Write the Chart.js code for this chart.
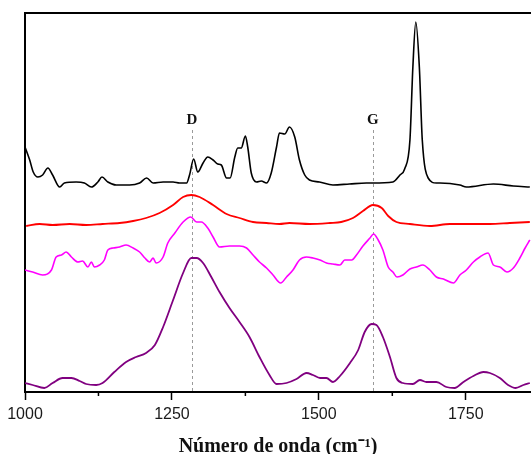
<!DOCTYPE html>
<html><head><meta charset="utf-8">
<script src="https://cdn.jsdelivr.net/npm/chart.js@4.4.1/dist/chart.umd.min.js"></script>
<style>html,body{margin:0;padding:0;background:#fff}#wrap{width:531px;height:454px;position:relative}</style>
</head><body><div id="wrap"><canvas id="c" width="531" height="454"></canvas></div>
<script>
// Axis range and ticks
const xMin = 1000, xMax = 1861;
const yMin = 0, yMax = 379;
const majorTicks = [1000, 1250, 1500, 1750];
const minorTicks = [1125, 1375, 1625];
const bandNames = ['D', 'G'];
const bandPositions = [1284, 1592];
const bandTop = 262;

// Black spectrum
const wnBlack = [1000,1008,1014,1022,1030,1039,1047,1059,1067,1087,1101,1113,1124,1131,1141,1155,1178,1195,1207,1218,1235,1252,1263,1275,1280,1287,1294,1303,1311,1320,1328,1334,1343,1349,1357,1362,1368,1375,1379,1385,1394,1402,1411,1419,1428,1433,1442,1450,1459,1467,1476,1484,1501,1524,1552,1581,1592,1626,1638,1646,1655,1660,1665,1671,1676,1686,1700,1706,1740,1751,1797,1831,1859];
const intBlack = [245,232,220,215,217,224,217,205,209,210,209,205,210,215,210,207,207,209,214,209,210,210,209,209,217,233,220,229,235,232,228,227,214,214,235,244,244,256,245,219,210,211,209,219,245,259,258,265,255,232,217,212,210,207,208,209,209,210,217,223,252,325,370,325,252,214,209,209,207,205,208,206,205];

// Red spectrum
const wnRed = [1002,1025,1047,1076,1104,1132,1161,1184,1206,1229,1252,1269,1283,1297,1320,1343,1365,1388,1411,1433,1450,1484,1519,1538,1558,1575,1592,1607,1618,1632,1655,1689,1723,1757,1791,1825,1859];
const intRed = [166,168,167,168,167,168,169,171,174,179,187,195,197,195,187,178,174,170,169,168,169,168,169,170,174,181,187,184,176,170,168,166,168,168,168,169,170];

// Magenta spectrum
const wnMagenta = [1000,1013,1030,1045,1053,1062,1070,1079,1090,1098,1107,1113,1118,1127,1135,1141,1150,1161,1172,1184,1195,1204,1212,1218,1223,1235,1243,1255,1269,1282,1292,1300,1311,1320,1331,1348,1365,1377,1388,1399,1411,1422,1435,1445,1456,1467,1479,1490,1502,1513,1524,1536,1544,1556,1564,1575,1587,1593,1601,1609,1618,1626,1633,1643,1655,1666,1677,1689,1700,1712,1729,1740,1751,1763,1774,1788,1797,1808,1820,1831,1842,1851,1859];
const intMagenta = [122,120,117,122,135,137,140,135,130,131,125,130,125,127,132,142,144,145,147,144,140,134,130,134,129,135,149,159,170,175,170,170,164,155,145,146,146,144,137,130,124,117,109,115,122,132,135,134,132,129,128,127,132,132,137,146,154,158,152,142,125,120,115,117,123,125,127,122,115,113,109,117,122,130,135,139,127,125,120,124,134,144,152];

// Purple spectrum
const wnPurple = [1000,1013,1033,1047,1064,1079,1093,1104,1121,1132,1152,1172,1189,1206,1221,1235,1252,1269,1283,1292,1303,1317,1331,1348,1365,1382,1399,1416,1428,1445,1462,1479,1490,1502,1513,1524,1536,1553,1567,1578,1590,1598,1609,1621,1632,1643,1660,1672,1683,1700,1717,1731,1746,1763,1780,1791,1808,1822,1835,1848,1859];
const intPurple = [9,7,4,9,14,14,11,8,7,9,20,30,35,39,47,65,92,119,134,134,129,115,100,84,70,55,35,17,8,9,13,19,17,14,14,10,16,29,42,60,68,67,55,35,14,9,8,12,10,10,5,4,10,16,20,19,14,7,4,7,9];

const toPts = (xs, ys) => xs.map((x, i) => ({x: x, y: ys[i]}));

const framePlugin = {
  id: 'frame',
  beforeDatasetsDraw(chart) {
    const {ctx, chartArea, scales: {x, y}} = chart;
    ctx.save();
    ctx.strokeStyle = '#9a9a9a';
    ctx.lineWidth = 1;
    ctx.setLineDash([3, 3]);
    const yt = y.getPixelForValue(bandTop);
    bandPositions.forEach((b) => {
      const px = Math.round(x.getPixelForValue(b)) + 0.5;
      ctx.beginPath();
      ctx.moveTo(px, yt);
      ctx.lineTo(px, chartArea.bottom);
      ctx.stroke();
    });
    ctx.setLineDash([]);
    ctx.fillStyle = '#111';
    ctx.font = 'bold 15px "Liberation Serif", "Times New Roman", serif';
    ctx.textAlign = 'center';
    ctx.textBaseline = 'bottom';
    bandPositions.forEach((b, i) => {
      ctx.fillText(bandNames[i], x.getPixelForValue(b), yt - 2);
    });
    ctx.restore();
  },
  afterDraw(chart) {
    const {ctx, chartArea, scales: {x}} = chart;
    ctx.save();
    ctx.strokeStyle = '#000';
    ctx.lineWidth = 2;
    ctx.beginPath();
    ctx.moveTo(chartArea.left - 1, chartArea.top);
    ctx.lineTo(chart.width, chartArea.top);
    ctx.stroke();
    ctx.lineWidth = 1.5;
    minorTicks.forEach((t) => {
      const px = x.getPixelForValue(t);
      ctx.beginPath();
      ctx.moveTo(px, chartArea.bottom);
      ctx.lineTo(px, chartArea.bottom + 4);
      ctx.stroke();
    });
    ctx.restore();
  }
};

const common = {fill: false, pointRadius: 0, cubicInterpolationMode: 'monotone', borderJoinStyle: 'round'};

new Chart(document.getElementById('c'), {
  type: 'line',
  data: {
    datasets: [
      Object.assign({data: toPts(wnBlack, intBlack), borderColor: '#000000', borderWidth: 1.6}, common),
      Object.assign({data: toPts(wnRed, intRed), borderColor: '#ff0000', borderWidth: 1.8}, common),
      Object.assign({data: toPts(wnMagenta, intMagenta), borderColor: '#ff00ff', borderWidth: 1.6}, common),
      Object.assign({data: toPts(wnPurple, intPurple), borderColor: '#800080', borderWidth: 1.8}, common)
    ]
  },
  options: {
    responsive: false,
    devicePixelRatio: 1,
    animation: false,
    events: [],
    layout: {padding: {left: 25, top: 13, right: 0, bottom: 0}},
    plugins: {legend: {display: false}, tooltip: {enabled: false}},
    scales: {
      x: {
        type: 'linear', min: xMin, max: xMax,
        afterBuildTicks: (s) => { s.ticks = majorTicks.map(v => ({value: v})); },
        ticks: {color: '#1a1a1a', font: {family: '"Liberation Sans", Arial, sans-serif', size: 16}, padding: 5, maxRotation: 0, autoSkip: false,
          callback: (v) => String(v)},
        grid: {display: true, drawOnChartArea: false, drawTicks: true, tickLength: 8, tickWidth: 1.5, tickColor: '#000'},
        border: {display: true, color: '#000', width: 2},
        title: {display: true, text: 'Número de onda (cm⁻¹)', color: '#111', font: {family: '"Liberation Serif", "Times New Roman", serif', size: 20, weight: 'bold'}, padding: {top: 8, bottom: -5}},
        afterFit: (s) => { s.height = 62; }
      },
      y: {
        min: yMin, max: yMax,
        ticks: {display: false},
        grid: {display: false},
        border: {display: true, color: '#000', width: 2},
        afterFit: (s) => { s.width = 0; }
      }
    }
  },
  plugins: [framePlugin]
});
</script>
</body></html>
